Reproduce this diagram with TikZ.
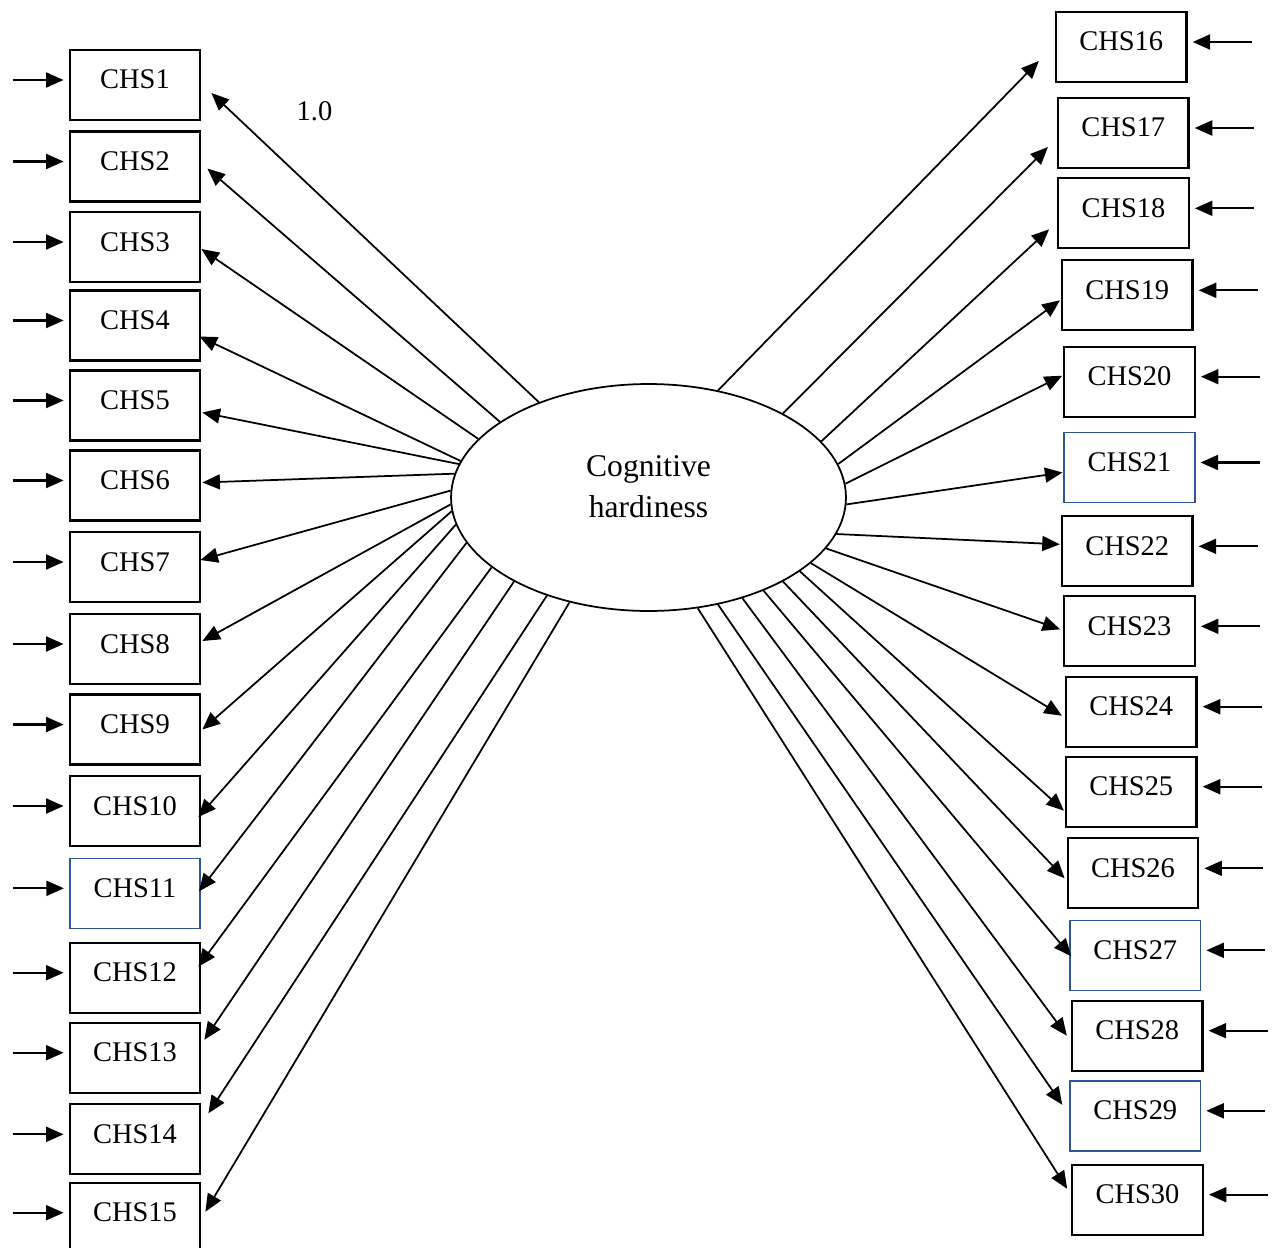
\documentclass[tikz,border=0pt]{standalone}
\usepackage{fontspec}
\setmainfont{Liberation Serif}
\usepackage{xcolor}
\definecolor{boxBlue}{HTML}{2F5597}
\usetikzlibrary{arrows.meta,shapes.geometric}

\begin{document}
\begin{tikzpicture}[x=0.02cm, y=-0.02cm, >={Triangle[length=10pt,width=8.5pt]},
    item/.style={draw, line width=1.3pt, minimum width=2.61cm, inner sep=0pt,
      text height=0.78cm, text depth=0.62cm, font=\fontsize{16.2}{19}\selectfont},
    itemblue/.style={item, draw=boxBlue, line width=0.9pt},
    factor/.style={draw, ellipse, line width=1pt, minimum width=7.9cm, minimum height=4.54cm,
      inner sep=0pt, align=center, text height=0.8cm, text depth=0.02cm,
      font=\fontsize{18}{22.8}\selectfont},
    load/.style={->, line width=1pt},
    err/.style={->, line width=1.25pt, shorten >=0.1cm}]
  \useasboundingbox (0,0) rectangle (1273,1247);
  \clip (0,0) rectangle (1273,1247);

  \node[factor] (cog) at (648.5,497.5) {Cognitive\\hardiness};

  % indicator boxes
  \foreach \i/\y/\s in {1/85/item, 2/166.5/item, 3/247/item, 4/325.5/item, 5/405.5/item,
      6/485.5/item, 7/567/item, 8/649/item, 9/729.5/item, 10/811/item, 11/893.3/itemblue,
      12/977.7/item, 13/1057.7/item, 14/1139.3/item, 15/1217.7/item}
    \node[\s] (chs\i) at (135,\y) {CHS\i};
  \foreach \i/\x/\y/\s in {16/1121.2/47/item, 17/1123.3/133/item, 18/1123.5/213.3/item,
      19/1127.3/295.3/item, 20/1129.5/381.7/item, 21/1129.5/467.5/itemblue,
      22/1127.2/551.3/item, 23/1129.5/631.3/item, 24/1131.3/711.7/item, 25/1131.3/791.7/item,
      26/1133/873.3/item, 27/1135.3/955.3/itemblue, 28/1137.2/1035.7/item,
      29/1135.3/1115.8/itemblue, 30/1137.5/1199.7/item}
    \node[\s] (chs\i) at (\x,\y) {CHS\i};

  % loadings
  \foreach \i/\a/\dx/\dy in {1/139/10/8, 2/153/6/2, 3/161/0/2, 4/169/-2/11, 5/170/1/7,
      6/173/1/-3, 7/178/-1/-7, 8/182/1/-8, 9/184/1/0, 10/188/-3/6, 11/194/-2/-2,
      12/204/-3/-11, 13/212/3/-18, 14/224/7/-26, 15/233/4/-6}
    \draw[load] (cog.\a) -- ([shift={(\dx,\dy)}]chs\i.east);
  \foreach \i/\a/\dx/\dy in {16/57/-16/14, 17/32/-9/14, 18/18/-8/16, 19/10/-1/5, 20/4/-1/-6,
      21/358/-1/5, 22/349/-1/-7, 23/344/-3/-2, 24/338/-3/4, 25/334/-1/19, 26/328/-2/5,
      27/321/2/1, 28/313/-4/0, 29/303/-7/-11, 30/294/-4/-11}
    \draw[load] (cog.\a) -- ([shift={(\dx,\dy)}]chs\i.west);

  \node[font=\fontsize{16.2}{19}\selectfont] (fix) at (314.5,111.5) {1.0};

  % error terms
  \foreach \i in {1,...,15} {
    \coordinate (e\i) at ([shift={(-56,-5)}]chs\i.west);
    \draw[err] (e\i) -- (chs\i.west |- e\i);
  }
  \foreach \i in {16,...,30} {
    \coordinate (e\i) at ([shift={(64,-5)}]chs\i.east);
    \draw[err] (e\i) -- (chs\i.east |- e\i);
  }
\end{tikzpicture}
\end{document}
